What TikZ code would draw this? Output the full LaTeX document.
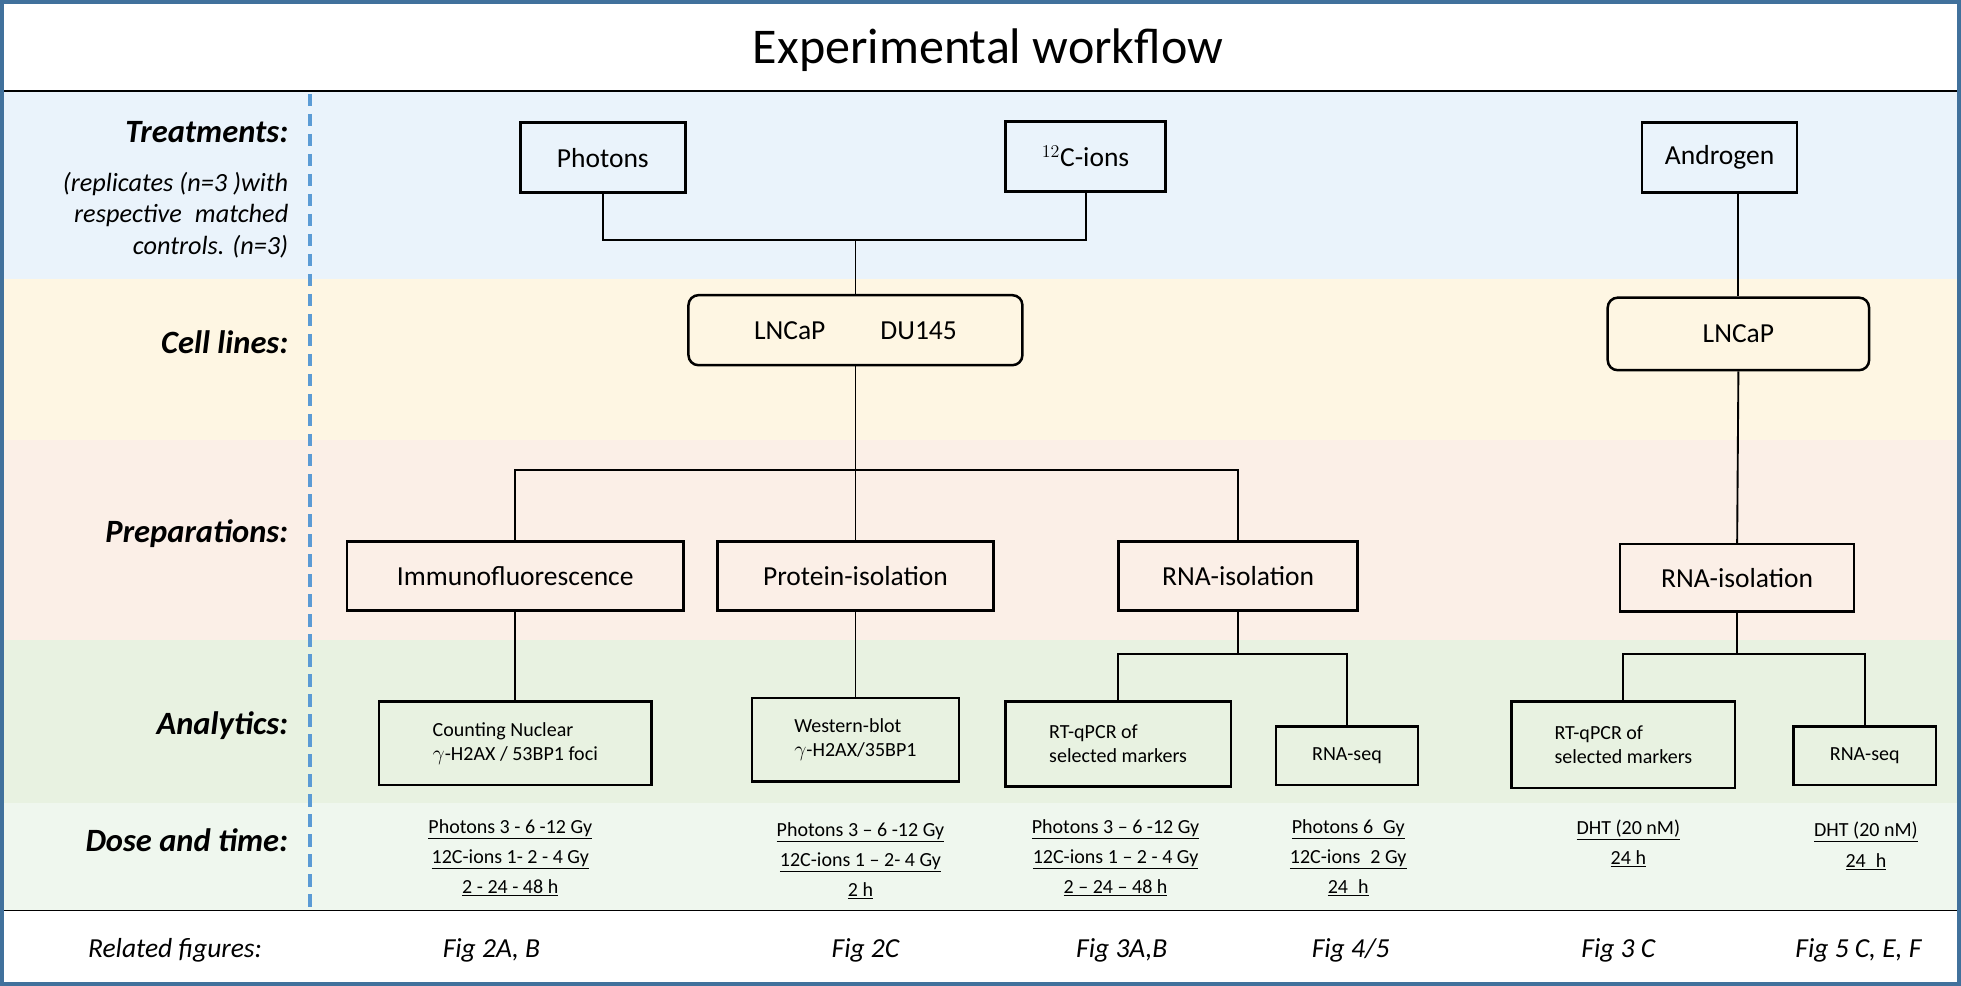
\documentclass[tikz,border=0pt]{standalone}
\usepackage{fontspec}
\setmainfont{Carlito}
\definecolor{bA}{HTML}{EAF3FB}
\definecolor{bB}{HTML}{FEF6E3}
\definecolor{bC}{HTML}{FBEFE7}
\definecolor{bD}{HTML}{E8F2E1}
\definecolor{bE}{HTML}{EFF7EE}
\definecolor{frameblue}{HTML}{41719C}
\definecolor{dashblue}{HTML}{5B9BD5}
\begin{document}
\begin{tikzpicture}[x=1pt,y=-1pt,
 box/.style={draw,line width=2pt,minimum height=56pt,font=\fontsize{22}{24}\selectfont,anchor=north},
 rbox/.style={box,rounded corners=8pt},
 sbox/.style={draw,line width=1.8pt,font=\fontsize{16}{19}\selectfont,anchor=north,align=left},
 lab/.style={anchor=east,font=\fontsize{26}{29}\selectfont\bfseries\itshape},
 dose/.style={font=\fontsize{16}{24}\selectfont,align=center,anchor=north},
 fig/.style={font=\fontsize{22}{24}\selectfont\itshape},
 ln/.style={line width=1.5pt}]
\useasboundingbox (0,0) rectangle (1568,788);
\fill[white] (0,0) rectangle (1568,788);
\fill[bA] (0,73) rectangle (1568,223);
\fill[bB] (0,223) rectangle (1568,352);
\fill[bC] (0,352) rectangle (1568,512);
\fill[bD] (0,512) rectangle (1568,642);
\fill[bE] (0,642) rectangle (1568,728);
\draw[line width=1.5pt] (0,73) -- (1568,73) (0,728) -- (1568,728);
\draw[line width=3pt,frameblue] (1.5,1.5) rectangle (1566.5,786.5);
\draw[line width=3pt,dashblue,dash pattern=on 10pt off 6pt] (248,75) -- (248,730);
\node[font=\fontsize{40}{44}\selectfont] (title) at (790,40) {Experimental workflow};
\node[lab] (l1) at (234,106) {Treatments:};
\node[anchor=east,align=right,font=\fontsize{21}{25}\selectfont\itshape] (l1b) at (234,172) {(replicates (n=3 )with\\respective\enspace matched\\controls. (n=3)};
\node[lab] (l2) at (234,274) {Cell lines:};
\node[lab] (l3) at (234,427) {Preparations:};
\node[lab] (l4) at (234,580) {Analytics:};
\node[lab] (l5) at (234,672) {Dose and time:};
\node[fig] (f0) at (140,760) {Related figures:};
\node[box,minimum width=132pt] (ph) at (482,97) {Photons};
\node[box,minimum width=128pt] (c12) at (868,96) {$^{12}$C-ions};
\node[box,minimum width=124pt] (an) at (1375,97) {Androgen};
\node[rbox,minimum width=267pt] (cl1) at (684,235) {LNCaP\qquad DU145};
\node[rbox,minimum width=209pt,minimum height=58pt] (cl2) at (1390,237) {LNCaP};
\node[box,minimum width=269pt,minimum height=55pt] (im) at (412,432) {Immunofluorescence};
\node[box,minimum width=221pt,minimum height=55pt] (pr) at (684,432) {Protein-isolation};
\node[box,minimum width=191pt,minimum height=55pt] (rn) at (990,432) {RNA-isolation};
\node[box,minimum width=187pt,minimum height=54pt] (rn2) at (1389,434) {RNA-isolation};
\node[sbox,minimum width=218pt,minimum height=67pt] (co) at (412,560) {Counting Nuclear\\$\gamma$-H2AX / 53BP1 foci};
\node[sbox,minimum width=166pt,minimum height=67pt] (wb) at (684,557) {Western-blot\\$\gamma$-H2AX/35BP1};
\node[sbox,minimum width=180pt,minimum height=68pt] (q1) at (894,560) {RT-qPCR of\\selected markers};
\node[sbox,minimum width=114pt,minimum height=47pt] (s1) at (1077,580) {RNA-seq};
\node[sbox,minimum width=179pt,minimum height=69pt] (q2) at (1298,560) {RT-qPCR of\\selected markers};
\node[sbox,minimum width=114pt,minimum height=47pt] (s2) at (1491,580) {RNA-seq};
\draw[ln] (ph.south) |- (868,192) coordinate (j1) -- (c12.south);
\draw[ln] (684,192) -- (cl1.north);
\draw[ln] (an.south -| cl2.north) -- (cl2.north);
\draw[ln] (cl1.south) -- (684,376) coordinate (j2);
\draw[ln] (im.north) |- (j2) -| (rn.north);
\draw[ln] (j2) -- (pr.north);
\draw[ln] (cl2.south) -- (rn2.north);
\draw[ln] (im.south) -- (co.north);
\draw[ln] (pr.south) -- (wb.north);
\draw[ln] (rn.south) -- (990,523) coordinate (j3);
\draw[ln] (q1.north) |- (j3) -| (s1.north);
\draw[ln] (rn2.south) -- (1389,523) coordinate (j4);
\draw[ln] (q2.north) |- (j4) -| (s2.north);
\node[dose] (d1) at (408,652) {\underline{Photons 3 - 6 -12 Gy}\\\underline{12C-ions 1- 2 - 4 Gy}\\\underline{2 - 24 - 48 h}};
\node[dose] (d2) at (688,654) {\underline{Photons 3 -- 6 -12 Gy}\\\underline{12C-ions 1 -- 2- 4 Gy}\\\underline{2 h}};
\node[dose] (d3) at (892,652) {\underline{Photons 3 -- 6 -12 Gy}\\\underline{12C-ions 1 -- 2 - 4 Gy}\\\underline{2 -- 24 -- 48 h}};
\node[dose] (d4) at (1078,652) {\underline{Photons 6\enspace Gy}\\\underline{12C-ions\enspace 2 Gy}\\\underline{24\enspace h}};
\node[dose] (d5) at (1302,652) {\underline{DHT (20 nM)}\\\underline{24 h}};
\node[dose] (d6) at (1492,654) {\underline{DHT (20 nM)}\\\underline{24\enspace h}};
\node[fig] (f1) at (393,760) {Fig 2A, B};
\node[fig] (f2) at (692,760) {Fig 2C};
\node[fig] (f3) at (897,760) {Fig 3A,B};
\node[fig] (f4) at (1080,760) {Fig 4/5};
\node[fig] (f5) at (1294,760) {Fig 3 C};
\node[fig] (f6) at (1486,760) {Fig 5 C, E, F};
\end{tikzpicture}
\end{document}
